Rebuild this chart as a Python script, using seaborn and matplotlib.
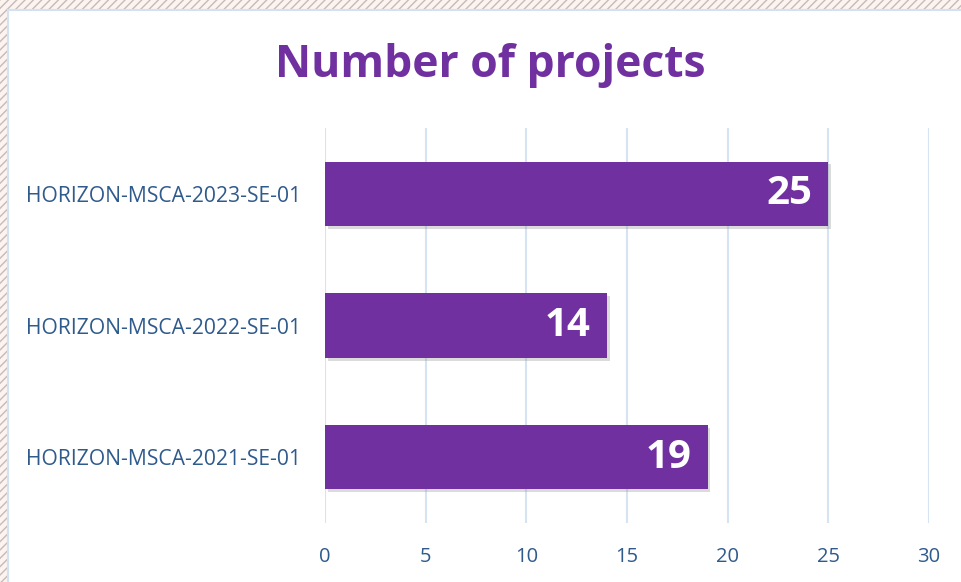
import matplotlib
matplotlib.use("Agg")
import matplotlib.pyplot as plt
import matplotlib.patches as mpatches
import matplotlib.patheffects as pe
import seaborn as sns
import pandas as pd

calls = ["HORIZON-MSCA-2023-SE-01", "HORIZON-MSCA-2022-SE-01", "HORIZON-MSCA-2021-SE-01"]
projects = [25, 14, 19]
xticks = [0, 5, 10, 15, 20, 25, 30]

purple = "#7030A0"
tick_color = "#2E5A8C"
grid_color = "#D6E3F3"

sns.set_theme(style="white")
plt.rcParams["font.family"] = ["Open Sans", "DejaVu Sans"]

df = pd.DataFrame({"call": calls, "n": projects})

fig = plt.figure(figsize=(9.62, 5.82), dpi=100)
fig.patch.set_facecolor("#FBF4EF")

# decorative backdrop with hatching, then the white chart card
bg = mpatches.Rectangle((0, 0), 1, 1, transform=fig.transFigure, facecolor="#FBF4EF",
                        edgecolor="#C9B9BA", hatch="////", linewidth=0, zorder=0)
fig.patches.append(bg)
card = mpatches.Rectangle((8 / 962, -0.01), 1, 1 - 10 / 582 + 0.01, transform=fig.transFigure,
                          facecolor="white", edgecolor="#D3E2F2", linewidth=1.5, zorder=1)
fig.patches.append(card)

ax = fig.add_axes([325 / 962, 1 - 523 / 582, (929 - 325) / 962, (523 - 128) / 582])
ax.set_facecolor("none")
ax.set_zorder(2)

sns.barplot(data=df, x="n", y="call", orient="h", color=purple, width=0.49,
            saturation=1, linewidth=0, edgecolor=purple, ax=ax, zorder=3)

for bar, v in zip(ax.patches, projects):
    bar.set_path_effects([pe.SimplePatchShadow(offset=(2, -2), shadow_rgbFace="#888888", alpha=0.3),
                          pe.Normal()])
    ax.text(bar.get_width() - 0.8, bar.get_y() + bar.get_height() / 2, str(v),
            ha="right", va="center", color="white", fontsize=29, fontweight="bold", zorder=4)

ax.set_xlim(0, 30)
ax.set_ylim(2.5, -0.5)
ax.set_xticks(xticks)
ax.set_xticklabels([str(t) for t in xticks])
ax.grid(axis="x", color=grid_color, linewidth=1.5, zorder=0)
ax.set_axisbelow(True)
for s in ax.spines.values():
    s.set_visible(False)
ax.tick_params(axis="x", colors=tick_color, labelsize=14.5, length=0, pad=17)
ax.tick_params(axis="y", colors=tick_color, labelsize=15.2, length=0, pad=17)
ax.set_xlabel("")
ax.set_ylabel("")

fig.text(490 / 962, 1 - 65 / 582, "Number of projects", ha="center", va="center",
         color=purple, fontsize=32, fontweight="bold")

fig.savefig("out.png", dpi=100)
